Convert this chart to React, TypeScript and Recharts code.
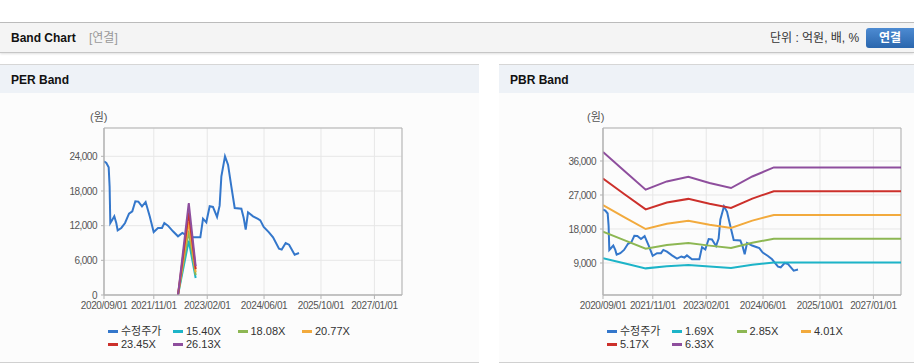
import React from 'react';
import { LineChart, Line, XAxis, YAxis, CartesianGrid, ReferenceArea } from 'recharts';

// ---------- data ----------
const xTickDates = ['2020-09-01', '2021-11-01', '2023-02-01', '2024-06-01', '2025-10-01', '2027-01-01'];
const xDomainDates = ['2020-09-01', '2027-08-25'];

const priceDates = [
  '2020-09-01', '2020-09-21', '2020-10-11', '2020-10-19', '2020-10-25', '2020-11-11', '2020-11-28',
  '2020-12-15', '2020-12-27', '2021-01-27', '2021-02-28', '2021-04-03', '2021-05-01', '2021-05-27',
  '2021-06-22', '2021-07-23', '2021-08-23', '2021-09-27', '2021-10-31', '2021-12-07', '2022-01-10',
  '2022-01-30', '2022-03-02', '2022-04-14', '2022-05-27', '2022-07-03', '2022-07-29', '2022-08-20',
  '2022-10-02', '2022-12-04', '2022-12-27', '2023-01-24', '2023-02-22', '2023-03-22', '2023-04-26',
  '2023-05-18', '2023-06-02', '2023-07-03', '2023-07-29', '2023-08-26', '2023-09-24', '2023-11-20',
  '2023-12-10', '2023-12-27', '2024-01-16', '2024-02-28', '2024-04-10', '2024-04-30', '2024-05-29',
  '2024-07-13', '2024-08-17', '2024-10-07', '2024-10-30', '2024-12-03', '2025-01-01', '2025-02-18',
  '2025-03-27',
];
const priceValues = [
  23140, 22850, 22100, 18800, 12460, 13040, 13620,
  12460, 11190, 11600, 12460, 14080, 14480, 16210,
  16160, 15350, 16100, 13620, 10900, 11600, 11600,
  12460, 12000, 11020, 10155, 10730, 10440, 11020,
  9980, 9980, 13210, 12580, 15350, 15230, 13500,
  15460, 20540, 24000, 22560, 18800, 15060, 14940,
  13330, 11310, 14310, 13620, 13160, 12920, 11770,
  10850, 9980, 8020, 7850, 9000, 8710, 6980,
  7270,
];

const perBandDates = ['2022-05-27', '2022-08-27', '2022-10-25'];
const per1540 = [0, 9380, 2940];
const per1808 = [0, 11010, 3450];
const per2077 = [0, 12650, 3970];
const per2345 = [0, 14280, 4480];
const per2613 = [0, 15920, 4990];

const pbrBandDates = [
  '2020-09-01', '2021-03-01', '2021-09-01', '2022-03-01', '2022-09-01',
  '2023-03-01', '2023-09-01', '2024-03-01', '2024-09-01', '2027-08-25',
];
const pbr169 = [10250, 8920, 7580, 8170, 8490, 8060, 7700, 8520, 9160, 9160];
const pbr285 = [17290, 15040, 12790, 13780, 14320, 13600, 12990, 14360, 15440, 15440];
const pbr401 = [24330, 21160, 17990, 19380, 20150, 19130, 18280, 20210, 21730, 21730];
const pbr517 = [31360, 27280, 23200, 24990, 25970, 24670, 23560, 26050, 28010, 28010];
const pbr633 = [38400, 33400, 28400, 30600, 31800, 30200, 28850, 31900, 34300, 34300];

const perYTicks = [0, 6000, 12000, 18000, 24000];
const perYDomain = [0, 28900];
const pbrYTicks = [9000, 18000, 27000, 36000];
const pbrYDomain = [530, 44735];

const perNames = ['수정주가', '15.40X', '18.08X', '20.77X', '23.45X', '26.13X'];
const pbrNames = ['수정주가', '1.69X', '2.85X', '4.01X', '5.17X', '6.33X'];
const colors = ['#3477cb', '#1db4c8', '#8db753', '#f2aa3d', '#cc302b', '#8e4e9d'];

// ---------- helpers ----------
const ts = (s: string) => Date.parse(s + 'T00:00:00Z');
const xTicks = xTickDates.map(ts);
const xDomain = xDomainDates.map(ts);
const toSeries = (dates: string[], vals: number[]) => dates.map((d, i) => ({ t: ts(d), v: vals[i] }));
const fmtDate = (t: number) => {
  const d = new Date(t);
  const m = String(d.getUTCMonth() + 1).padStart(2, '0');
  const dd = String(d.getUTCDate()).padStart(2, '0');
  return `${d.getUTCFullYear()}/${m}/${dd}`;
};
const fmtNum = (n: number) => n.toLocaleString('en-US');

const FONT = "'Liberation Sans', Arial, 'Noto Sans CJK KR', sans-serif";
const KFONT = "'Liberation Sans', Arial, 'Noto Sans CJK KR', sans-serif";

type ChartProps = {
  left: number;
  width: number;
  rightMargin: number;
  yTicks: number[];
  yDomain: number[];
  series: { name: string; data: { t: number; v: number }[]; color: string }[];
};

function BandChart({ left, width, rightMargin, yTicks, yDomain, series }: ChartProps) {
  const tickStyle = { fill: '#555', fontSize: 10, fontFamily: FONT, letterSpacing: -0.35 };
  return (
    <div style={{ position: 'absolute', left, top: 93, width, height: 230 }}>
      <LineChart width={width} height={230} margin={{ top: 35, right: rightMargin, bottom: 0, left: 0 }}>
        <CartesianGrid stroke="#e7e7e7" strokeWidth={1} />
        <XAxis
          type="number"
          dataKey="t"
          domain={xDomain}
          ticks={xTicks}
          interval={0}
          allowDataOverflow
          tickFormatter={fmtDate}
          height={28}
          stroke="#b3b3b3"
          tickSize={4}
          tickMargin={3}
          tick={tickStyle}
        />
        <YAxis
          type="number"
          dataKey="v"
          domain={yDomain}
          ticks={yTicks}
          interval={0}
          allowDataOverflow
          tickFormatter={fmtNum}
          width={104}
          stroke="#b3b3b3"
          tickSize={3}
          tickMargin={4}
          tick={{ ...tickStyle, letterSpacing: -0.5 }}
        />
        <ReferenceArea
          x1={xDomain[0]}
          x2={xDomain[1]}
          y1={yDomain[0]}
          y2={yDomain[1]}
          fill="none"
          fillOpacity={0}
          stroke="#b3b3b3"
          strokeWidth={1}
        />
        {series.map((s) => (
          <Line
            key={s.name}
            data={s.data}
            dataKey="v"
            name={s.name}
            stroke={s.color}
            strokeWidth={2}
            dot={false}
            activeDot={false}
            isAnimationActive={false}
            type="linear"
          />
        ))}
      </LineChart>
    </div>
  );
}

function LegendBlock({ left, names }: { left: number; names: string[] }) {
  const cols = [108, 173, 237.5, 302];
  return (
    <>
      {names.map((n, i) => {
        const row = Math.floor(i / 4);
        const col = i % 4;
        const x = left + cols[col];
        const y = row === 0 ? 331 : 344;
        return (
          <div key={n} style={{ position: 'absolute', left: x, top: y - 7, height: 14, display: 'flex', alignItems: 'center' }}>
            <div style={{ width: 10, height: 3, background: colors[i], marginRight: 3 }} />
            <span style={{ fontSize: 11, color: '#333', fontFamily: KFONT, lineHeight: '14px', whiteSpace: 'nowrap' }}>{n}</span>
          </div>
        );
      })}
    </>
  );
}

function Panel({ left, width, title }: { left: number; width: number; title: string }) {
  return (
    <div style={{ position: 'absolute', left, top: 64, width, height: 299 }}>
      <div style={{ position: 'absolute', left: 0, top: 0, width, height: 1, background: '#d6d6d6' }} />
      <div style={{ position: 'absolute', left: 0, top: 1, width, height: 28, background: '#eef2f7' }} />
      <div style={{ position: 'absolute', left: 0, top: 29, width, height: 269, background: '#fcfcfc' }} />
      <div style={{ position: 'absolute', left: 0, top: 298, width, height: 1, background: '#d0d0d0' }} />
      <div style={{ position: 'absolute', left: 11, top: 8, fontSize: 12, fontWeight: 'bold', color: '#111', fontFamily: FONT, lineHeight: '16px' }}>{title}</div>
    </div>
  );
}

export default function App() {
  const perSeries = [
    { name: perNames[0], data: toSeries(priceDates, priceValues), color: colors[0] },
    { name: perNames[1], data: toSeries(perBandDates, per1540), color: colors[1] },
    { name: perNames[2], data: toSeries(perBandDates, per1808), color: colors[2] },
    { name: perNames[3], data: toSeries(perBandDates, per2077), color: colors[3] },
    { name: perNames[4], data: toSeries(perBandDates, per2345), color: colors[4] },
    { name: perNames[5], data: toSeries(perBandDates, per2613), color: colors[5] },
  ];
  const pbrSeries = [
    { name: pbrNames[0], data: toSeries(priceDates, priceValues), color: colors[0] },
    { name: pbrNames[1], data: toSeries(pbrBandDates, pbr169), color: colors[1] },
    { name: pbrNames[2], data: toSeries(pbrBandDates, pbr285), color: colors[2] },
    { name: pbrNames[3], data: toSeries(pbrBandDates, pbr401), color: colors[3] },
    { name: pbrNames[4], data: toSeries(pbrBandDates, pbr517), color: colors[4] },
    { name: pbrNames[5], data: toSeries(pbrBandDates, pbr633), color: colors[5] },
  ];

  return (
    <div style={{ position: 'absolute', left: 0, top: 0, width: 914, height: 364, overflow: 'hidden', background: '#fff', fontFamily: FONT }}>
      {/* top header */}
      <div style={{ position: 'absolute', left: 0, top: 22, width: 914, height: 1, background: '#bdbdbd' }} />
      <div style={{ position: 'absolute', left: 0, top: 23, width: 914, height: 29, background: '#f4f4f4', borderBottom: '1px solid #c6c6c6', boxShadow: '0 1px 2px rgba(0,0,0,0.12)' }} />
      <div style={{ position: 'absolute', left: 11, top: 30, fontSize: 12, fontWeight: 'bold', color: '#111', lineHeight: '16px' }}>Band Chart</div>
      <div style={{ position: 'absolute', left: 89, top: 30, fontSize: 12, color: '#999', lineHeight: '16px', fontFamily: KFONT }}>[연결]</div>
      <div style={{ position: 'absolute', left: 770, top: 30, fontSize: 12, color: '#333', lineHeight: '16px', fontFamily: KFONT, whiteSpace: 'nowrap' }}>단위 : 억원, 배, %</div>
      <div style={{ position: 'absolute', left: 866, top: 28, width: 52, height: 20, borderRadius: 3, background: 'linear-gradient(#4d8bd2, #2a66ad)', color: '#fff', fontSize: 12, fontWeight: 'bold', lineHeight: '20px', textAlign: 'center', fontFamily: KFONT, boxSizing: 'border-box', paddingRight: 4 }}>연결</div>

      <Panel left={0} width={479} title="PER Band" />
      <Panel left={499} width={415} title="PBR Band" />

      <div style={{ position: 'absolute', left: 90, top: 110, fontSize: 11, color: '#555', lineHeight: '14px', fontFamily: KFONT }}>(원)</div>
      <div style={{ position: 'absolute', left: 587, top: 110, fontSize: 11, color: '#555', lineHeight: '14px', fontFamily: KFONT }}>(원)</div>

      <BandChart left={0} width={479} rightMargin={77} yTicks={perYTicks} yDomain={perYDomain} series={perSeries} />
      <BandChart left={499} width={415} rightMargin={13} yTicks={pbrYTicks} yDomain={pbrYDomain} series={pbrSeries} />

      <LegendBlock left={0} names={perNames} />
      <LegendBlock left={499} names={pbrNames} />
    </div>
  );
}
